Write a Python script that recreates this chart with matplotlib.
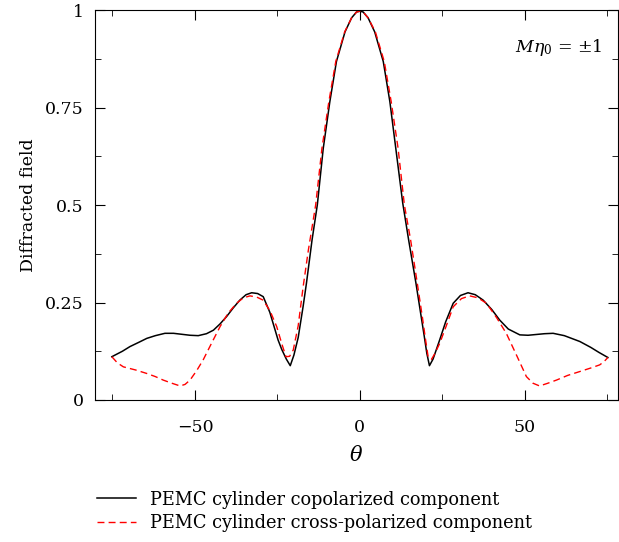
import matplotlib
matplotlib.use('Agg')
from matplotlib import pyplot as plt
from matplotlib.ticker import MultipleLocator

plt.rcParams['font.family'] = 'DejaVu Serif'
plt.rcParams['mathtext.fontset'] = 'dejavuserif'

# copolarized component
theta_co = [-75.2, -72.0, -69.7, -67.0, -64.6, -62.0, -59.1, -56.5, -54.5, -51.5,
            -49.0, -46.5, -44.4, -42.4, -40.4, -38.4, -36.4, -34.5, -32.8, -31.0,
            -29.3, -27.3, -24.8, -23.7, -22.3, -21.1, -20.0, -18.7, -17.2, -16.2,
            -14.5, -12.9, -11.1, -9.1, -7.1, -4.5, -2.5, -1.0, 0.0,
            1.0, 2.5, 4.5, 7.1, 9.1, 10.9, 13.0, 14.8, 17.0, 18.2,
            19.5, 20.3, 21.1, 22.2, 24.2, 26.0, 28.3, 30.5, 32.8, 35.0,
            37.4, 40.0, 42.4, 45.0, 48.5, 51.0, 53.5, 56.0, 58.6, 62.0,
            66.7, 70.0, 72.5, 75.2]
field_co = [0.111, 0.125, 0.137, 0.148, 0.158, 0.165, 0.171, 0.171, 0.169, 0.166,
            0.165, 0.170, 0.179, 0.195, 0.214, 0.236, 0.256, 0.270, 0.275, 0.273,
            0.265, 0.225, 0.154, 0.130, 0.105, 0.088, 0.115, 0.160, 0.240, 0.299,
            0.410, 0.500, 0.645, 0.765, 0.868, 0.944, 0.980, 0.995, 0.997,
            0.995, 0.980, 0.944, 0.868, 0.765, 0.645, 0.505, 0.410, 0.300, 0.235,
            0.165, 0.120, 0.088, 0.105, 0.154, 0.200, 0.248, 0.268, 0.275, 0.270,
            0.256, 0.232, 0.205, 0.182, 0.167, 0.166, 0.168, 0.170, 0.171, 0.165,
            0.150, 0.135, 0.122, 0.109]

# cross-polarized component
theta_cx = [-75.2, -73.5, -71.7, -68.0, -64.6, -62.0, -59.6, -57.0, -54.5, -53.0,
            -51.5, -49.5, -47.5, -45.0, -42.4, -40.0, -37.4, -35.3, -33.3, -31.3,
            -29.3, -27.2, -25.2, -23.7, -22.4, -21.3, -20.2, -18.7, -17.2, -15.6,
            -13.4, -11.5, -9.4, -7.3, -4.6, -2.5, -1.0, 0.0,
            1.0, 2.5, 4.7, 7.4, 9.5, 11.6, 13.5, 15.4, 17.4, 19.0,
            20.0, 20.7, 21.7, 22.8, 24.2, 26.2, 28.3, 30.8, 33.3, 35.8,
            38.4, 41.4, 44.4, 47.5, 50.5, 52.5, 54.5, 57.0, 59.6, 63.0,
            66.7, 70.0, 72.7, 74.0, 75.2]
field_cx = [0.111, 0.095, 0.085, 0.077, 0.068, 0.060, 0.051, 0.043, 0.036, 0.040,
            0.051, 0.075, 0.103, 0.145, 0.188, 0.222, 0.248, 0.262, 0.267, 0.264,
            0.256, 0.228, 0.188, 0.145, 0.111, 0.112, 0.128, 0.190, 0.290, 0.385,
            0.500, 0.645, 0.765, 0.868, 0.944, 0.980, 0.995, 0.997,
            0.995, 0.980, 0.944, 0.868, 0.765, 0.645, 0.500, 0.410, 0.300, 0.210,
            0.150, 0.111, 0.104, 0.120, 0.145, 0.190, 0.239, 0.260, 0.267, 0.262,
            0.248, 0.212, 0.171, 0.115, 0.060, 0.043, 0.036, 0.043, 0.051, 0.063,
            0.073, 0.082, 0.090, 0.098, 0.109]

fig = plt.figure(figsize=(6.19, 5.42), dpi=100)
ax = fig.add_axes([0.1535, 0.262, 0.8445, 0.7195])

l1, = ax.plot(theta_co, field_co, color='black', lw=1.1,
              label='PEMC cylinder copolarized component')
l2, = ax.plot(theta_cx, field_cx, color='red', lw=1.0, dashes=(5, 3),
              label='PEMC cylinder cross-polarized component')

ax.set_xlim(-80.3, 78.2)
ax.set_ylim(0, 1)
ax.xaxis.set_minor_locator(MultipleLocator(25))
ax.yaxis.set_minor_locator(MultipleLocator(0.125))
ax.set_yticks([0, 0.25, 0.5, 0.75, 1])
ax.set_yticklabels(['0', '0.25', '0.5', '0.75', '1'])
ax.set_xticks([-50, 0, 50])
ax.set_xticklabels(['\u221250', '0', '50'])
ax.tick_params(which='both', direction='in', top=True, right=True, labelsize=12.5)
ax.tick_params(which='major', length=7)
ax.tick_params(which='minor', length=4)
ax.tick_params(axis='x', pad=14)
ax.tick_params(axis='y', pad=8)

ax.set_xlabel(r'$\theta$', fontsize=15, labelpad=6)
ax.set_ylabel('Diffracted field', fontsize=12.5, labelpad=6)

ax.text(0.971, 0.905, r'$M\eta_0$ = ±1', transform=ax.transAxes,
        ha='right', va='center', fontsize=12.5)

fig.legend(handles=[l1, l2], loc='upper left', bbox_to_anchor=(0.145, 0.108),
           frameon=False, fontsize=12.8, handlelength=2.2, labelspacing=0.3,
           borderaxespad=0)

fig.savefig('out.png', dpi=100)
